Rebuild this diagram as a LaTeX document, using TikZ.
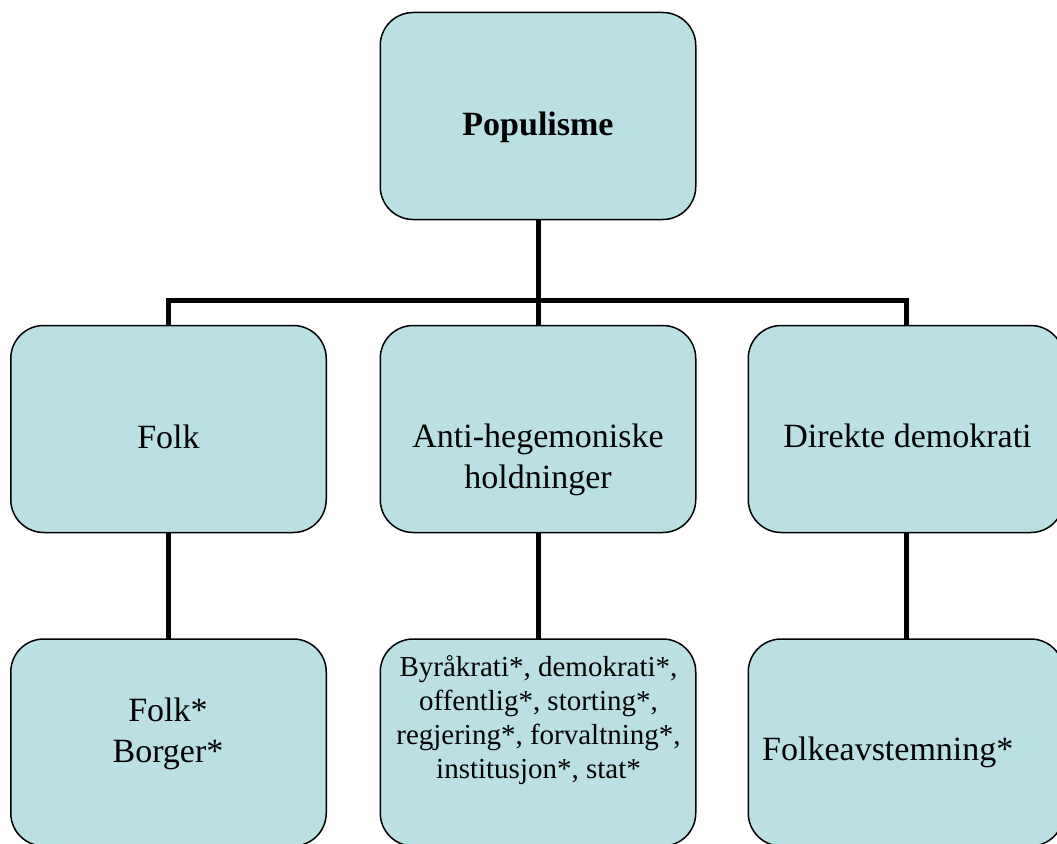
\documentclass[tikz,border=0pt]{standalone}
\usepackage{fontspec}
\setmainfont{Liberation Serif}
\usetikzlibrary{backgrounds}
\definecolor{boxfill}{RGB}{187,224,227}
\begin{document}
\begin{tikzpicture}[x=1pt,y=-1pt,
  box/.style={draw=black,line width=1.5pt,fill=boxfill,rounded corners=33pt,
    minimum width=315.5pt,minimum height=207pt,inner sep=0pt,outer sep=0pt},
  link/.style={line width=5pt,draw=black},
  lbl/.style={anchor=base,align=center,inner sep=0pt,font=\fontsize{34}{41}\selectfont},
  smalllbl/.style={anchor=base,align=center,inner sep=0pt,font=\fontsize{29}{33.7}\selectfont}]
\useasboundingbox (0,0) rectangle (1057,843);
\clip (0,0) rectangle (1057,843);
% boxes
\node[box] (pop) at (538,116) {};
\node[box] (folk) at (168.5,429) {};
\node[box] (anti) at (538,429) {};
\node[box] (dd) at (906,429) {};
\node[box] (folklow) at (168.5,742.5) {};
\node[box] (antilow) at (538,742.5) {};
\node[box] (ddlow) at (906,742.5) {};
% connectors
\coordinate (bus) at (538,300);
\begin{pgfonlayer}{background}
\draw[link] (pop.south) -- (anti.north);
\draw[link] (folk.north) |- (bus) -| (dd.north);
\draw[link] (folk.south) -- (folklow.north);
\draw[link] (anti.south) -- (antilow.north);
\draw[link] (dd.south) -- (ddlow.north);
\end{pgfonlayer}
% texts
\node[lbl] (tpop) at (538,135) {\bfseries Populisme};
\node[lbl] (tfolk) at (168.5,448) {Folk};
\node[lbl] (tanti) at (538,488) {Anti-hegemoniske\\holdninger};
\node[lbl] (tdd) at (907.5,447) {Direkte demokrati};
\node[lbl] (tfb) at (168,762) {Folk*\\Borger*};
\node[smalllbl] (tby) at (538.5,778) {Byråkrati*, demokrati*,\\offentlig*, storting*,\\regjering*, forvaltning*,\\institusjon*, stat*};
\node[lbl,anchor=base west] (tfa) at (762,760) {Folkeavstemning*};
\end{tikzpicture}
\end{document}
